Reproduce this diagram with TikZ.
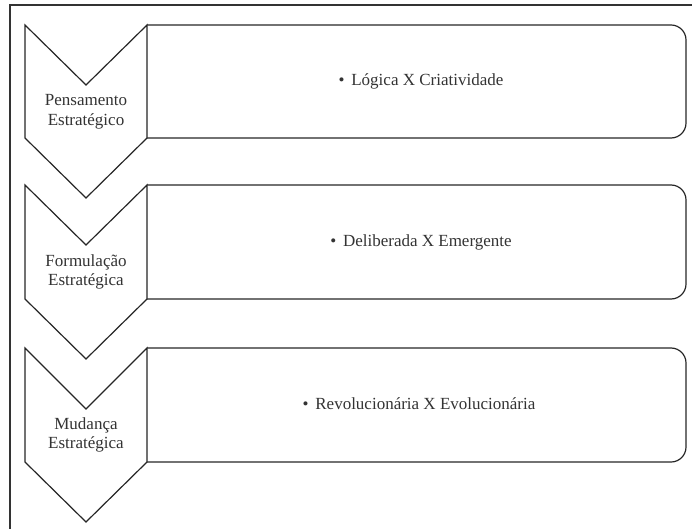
\documentclass[tikz,border=0pt]{standalone}
\usepackage{fontspec}
\setmainfont{Liberation Serif}

\begin{document}
\begin{tikzpicture}[x=1pt,y=-1pt,
  chevron/.style={draw=black!85,line width=1.2pt,fill=white},
  box/.style={draw=black!85,line width=1.2pt,rounded corners=15pt},
  stage/.style={align=center,text=black!80,font=\fontsize{17}{19.5}\selectfont},
  item/.style={text=black!80,font=\fontsize{17}{20}\selectfont}]
\useasboundingbox (0,0) rectangle (692,529);
\clip (0,0) rectangle (692,529);

% draw frame
\draw[black!80,line width=1.3pt] (10,5) rectangle (720,560);

% draw Pensamento
\begin{scope}[shift={(0,0)}]
\draw[box] (147,25) -- (686,25) -- (686,138) -- (147,138);
\draw[chevron] (25,25) -- (86,85) -- (147,25) -- (147,138) -- (86,198) -- (25,138) -- cycle;
\node[stage] (pensamento) at (86,112) {Pensamento\\Estratégico};
\node[item] (logica) at (421,81) {\textbullet\hspace{0.4em}Lógica X Criatividade};
\end{scope}

% draw Formulacao
\begin{scope}[shift={(0,160)}]
\draw[box] (147,25) -- (686,25) -- (686,139) -- (147,139);
\draw[chevron] (25,25) -- (86,85) -- (147,25) -- (147,139) -- (86,199) -- (25,139) -- cycle;
\node[stage] (formulacao) at (86,112) {Formulação\\Estratégica};
\node[item] (deliberada) at (421,82) {\textbullet\hspace{0.4em}Deliberada X Emergente};
\end{scope}

% draw Mudanca
\begin{scope}[shift={(0,323)}]
\draw[box] (147,25) -- (686,25) -- (686,139) -- (147,139);
\draw[chevron] (25,25) -- (86,86) -- (147,25) -- (147,139) -- (86,199) -- (25,139) -- cycle;
\node[stage] (mudanca) at (86,112) {Mudança\\Estratégica};
\node[item] (revolucionaria) at (419,81) {\textbullet\hspace{0.4em}Revolucionária X Evolucionária};
\end{scope}

\end{tikzpicture}
\end{document}
